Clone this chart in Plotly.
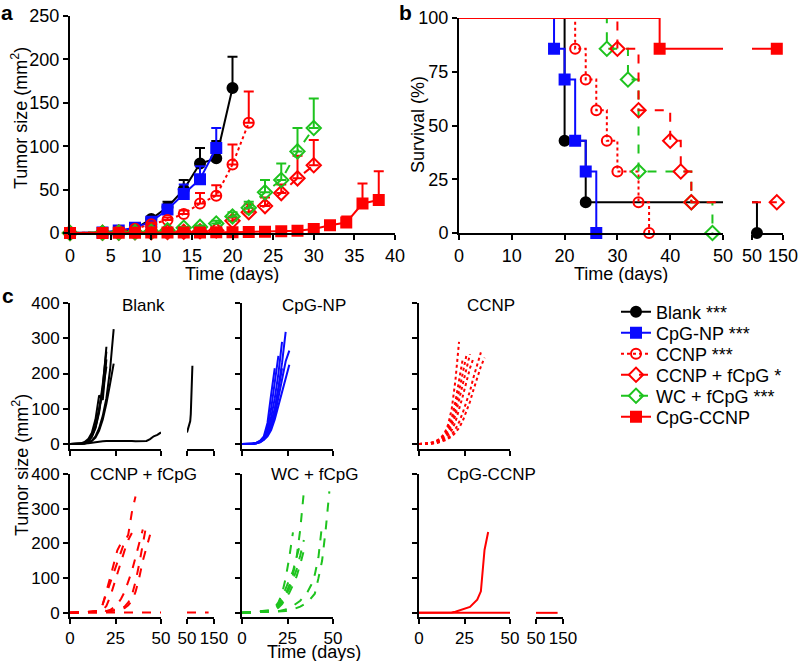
import plotly.graph_objects as go

W, H = 800, 661

# ---------------- Panel a: mean tumour size (mm^2) and upper error ----------------
a_names = ["Blank ***", "CpG-NP ***", "CCNP ***", "CCNP + fCpG *", "WC + fCpG ***", "CpG-CCNP"]

a_blank_days = [0, 4, 6, 8, 10, 12, 14, 16, 18, 20]
a_blank_mean = [0, 0.5, 2, 5, 16, 30, 50, 80, 86, 167]
a_blank_err = [0, 0.5, 1, 1.5, 3, 6, 11, 18, 20, 36]

a_cpgnp_days = [0, 4, 6, 8, 10, 12, 14, 16, 18]
a_cpgnp_mean = [0, 0.5, 3, 6, 13, 27, 45, 62, 98]
a_cpgnp_err = [0, 0.5, 1, 1.5, 3, 5, 11, 15, 23]

a_ccnp_days = [0, 4, 6, 8, 10, 12, 14, 16, 18, 20, 22]
a_ccnp_mean = [0, 0.5, 2, 5, 10, 15, 22, 34, 43, 79, 127]
a_ccnp_err = [0, 0.5, 1, 1, 2, 3, 4, 12, 12, 23, 36]

a_ccnpf_days = [0, 4, 6, 8, 10, 12, 14, 16, 18, 20, 22, 24, 26, 28, 30]
a_ccnpf_mean = [0, 0.3, 0.5, 0.8, 1, 1.2, 1.5, 2, 3, 14, 24, 31, 46, 63, 78]
a_ccnpf_err = [0, 0, 0, 0, 0, 0, 0, 0.5, 1, 4, 9, 10, 10, 26, 29]

a_wcf_days = [0, 4, 6, 8, 10, 12, 14, 16, 18, 20, 22, 24, 26, 28, 30]
a_wcf_mean = [0, 0.3, 0.5, 1, 1.5, 3, 6, 7, 11, 19, 29, 47, 61, 94, 121]
a_wcf_err = [0, 0, 0, 0, 0.5, 1, 1, 1.5, 3, 5, 7, 14, 19, 27, 34]

a_cpgccnp_days = [0, 4, 6, 8, 10, 12, 14, 16, 18, 20, 22, 24, 26, 28, 30, 32, 34, 36, 38]
a_cpgccnp_mean = [0, 0, 0.2, 0.3, 0.5, 0.5, 0.6, 0.7, 0.8, 1, 1.2, 1.5, 2, 2.5, 4.5, 9, 12, 34, 38]
a_cpgccnp_err = [0, 0, 0, 0, 0, 0, 0, 0, 0, 0, 0, 0.5, 0.5, 1, 1.5, 2, 7, 23, 33]

a_x_ticks = [0, 5, 10, 15, 20, 25, 30, 35, 40]
a_y_ticks = [0, 50, 100, 150, 200, 250]

# ---------------- Panel b: survival (%) ----------------
b_blank_t = [0, 20, 24, 66]
b_blank_s = [100, 42.9, 14.3, 0]
b_cpgnp_t = [0, 18, 20, 22, 24, 26]
b_cpgnp_s = [100, 85.7, 71.4, 42.9, 28.6, 0]
b_ccnp_t = [0, 22, 24, 26, 28, 30, 34, 36]
b_ccnp_s = [100, 85.7, 71.4, 57.1, 42.9, 28.6, 14.3, 0]
b_wcf_t = [0, 28, 32, 34, 44, 48]
b_wcf_s = [100, 85.7, 71.4, 28.6, 14.3, 0]
b_ccnpf_t = [0, 30, 34, 40, 42, 44, 130]
b_ccnpf_s = [100, 85.7, 57.1, 42.9, 28.6, 14.3, 14.3]
b_cpgccnp_t = [0, 38, 130]
b_cpgccnp_s = [100, 85.7, 85.7]

b_x_ticks = [0, 10, 20, 30, 40, 50]
b_x2_ticks = [50, 150]
b_y_ticks = [0, 25, 50, 75, 100]

# ---------------- Panel c: individual tumour growth (mm^2) ----------------
c_titles = ["Blank", "CpG-NP", "CCNP", "CCNP + fCpG", "WC + fCpG", "CpG-CCNP"]

c_blank_days = [
    [0, 4, 6, 8, 10, 12, 14, 16, 18, 20],
    [0, 4, 6, 8, 10, 12, 14, 16, 18, 20],
    [0, 4, 6, 8, 10, 12, 14, 16, 18, 20],
    [0, 4, 6, 8, 10, 12, 14, 16, 18, 20, 22, 24],
    [0, 4, 6, 8, 10, 12, 14, 16, 18, 20, 22, 24],
    [0, 4, 6, 8, 10, 12, 14, 16, 18, 20],
    [0, 4, 6, 8, 10, 12, 14, 16, 18, 20, 22, 24, 26, 28, 30, 32, 34, 36, 38, 40, 42, 44, 46, 48, 50,
     54, 58, 62, 64, 66, 68, 70],
]
c_blank_vals = [
    [0, 0, 1, 3, 8, 20, 45, 90, 160, 276],
    [0, 0, 2, 6, 14, 32, 70, 138, 125, 240],
    [0, 0, 1, 4, 10, 24, 52, 100, 150, 220],
    [0, 0, 0, 2, 5, 10, 22, 45, 80, 130, 210, 326],
    [0, 0, 0, 1, 4, 9, 18, 38, 70, 115, 170, 228],
    [0, 0, 1, 3, 9, 22, 48, 95, 170, 262],
    [0, 0, 0, 1, 2, 4, 6, 7, 8, 9, 9, 10, 10, 11, 10, 10, 9, 8, 8, 7, 9, 14, 22, 26, 33,
     42, 50, 65, 85, 120, 165, 222],
]

c_cpgnp_days = [
    [0, 3, 6, 8, 10, 12, 14, 16, 18],
    [0, 3, 6, 8, 10, 12, 14, 16, 18, 20],
    [0, 3, 6, 8, 10, 12, 14, 16, 18, 20, 22],
    [0, 3, 6, 8, 10, 12, 14, 16, 18, 20, 22, 24],
    [0, 3, 6, 8, 10, 12, 14, 16, 18, 20, 22, 24, 26],
    [0, 3, 6, 8, 10, 12, 14, 16, 18, 20, 22, 24, 26],
    [0, 3, 6, 8, 10, 12, 14, 16, 18, 20, 22],
]
c_cpgnp_vals = [
    [0, 0, 1, 4, 10, 22, 60, 140, 215],
    [0, 0, 1, 3, 8, 18, 45, 100, 170, 250],
    [0, 0, 1, 3, 8, 16, 35, 75, 130, 200, 290],
    [0, 0, 1, 3, 7, 15, 30, 60, 100, 160, 230, 318],
    [0, 0, 1, 2, 6, 12, 25, 45, 80, 130, 180, 235, 265],
    [0, 0, 0, 2, 5, 12, 22, 40, 70, 110, 150, 190, 225],
    [0, 0, 1, 2, 6, 14, 28, 55, 95, 150, 215],
]

c_ccnp_days = [
    [0, 4, 6, 8, 10, 12, 14, 16, 18, 20, 22],
    [0, 4, 6, 8, 10, 12, 14, 16, 18, 20, 22, 24],
    [0, 4, 6, 8, 10, 12, 14, 16, 18, 20, 22, 24, 26],
    [0, 4, 6, 8, 10, 12, 14, 16, 18, 20, 22, 24, 26, 28],
    [0, 4, 6, 8, 10, 12, 14, 16, 18, 20, 22, 24, 26, 28, 30],
    [0, 4, 6, 8, 10, 12, 14, 16, 18, 20, 22, 24, 26, 28, 30, 32, 34],
    [0, 4, 6, 8, 10, 12, 14, 16, 18, 20, 22, 24, 26, 28, 30, 32, 34, 36],
]
c_ccnp_vals = [
    [0, 1, 3, 6, 10, 18, 30, 55, 100, 180, 290],
    [0, 1, 2, 5, 9, 15, 25, 45, 75, 120, 180, 240],
    [0, 0, 2, 4, 8, 14, 22, 38, 62, 100, 150, 200, 250],
    [0, 0, 1, 3, 6, 12, 20, 32, 52, 82, 125, 170, 215, 255],
    [0, 0, 1, 3, 5, 10, 16, 26, 40, 62, 95, 135, 175, 215, 245],
    [0, 0, 1, 2, 4, 7, 12, 18, 28, 42, 62, 88, 118, 150, 190, 225, 260],
    [0, 0, 1, 2, 3, 6, 10, 15, 22, 32, 46, 65, 90, 120, 155, 190, 220, 245],
]

c_ccnpf_days = [
    [0, 4, 8, 12, 16, 18, 20, 22, 24, 26, 28, 30],
    [0, 4, 8, 12, 16, 18, 20, 22, 24, 26, 28, 30, 32, 34, 36],
    [0, 4, 8, 12, 16, 18, 20, 22, 24, 26, 28, 30, 32, 34],
    [0, 4, 8, 12, 16, 20, 24, 28, 30, 32, 34, 36, 38, 40, 42],
    [0, 4, 8, 12, 16, 20, 24, 28, 30, 32, 34, 36, 38, 40, 42, 44],
    [0, 4, 8, 12, 16, 18, 20, 22, 24, 26, 28, 30, 32, 34, 36, 38, 40],
    [0, 10, 20, 30, 40, 50, 70, 90, 110, 130],
]
c_ccnpf_vals = [
    [0, 2, 2, 3, 5, 25, 60, 100, 140, 180, 200, 200],
    [0, 2, 3, 3, 5, 25, 55, 90, 120, 150, 175, 205, 225, 290, 335],
    [0, 2, 2, 3, 4, 8, 20, 45, 80, 115, 150, 180, 210, 230],
    [0, 2, 2, 3, 3, 5, 8, 12, 18, 30, 50, 90, 140, 200, 255],
    [0, 2, 2, 3, 3, 4, 6, 10, 14, 22, 35, 60, 100, 150, 190, 225],
    [0, 2, 2, 3, 4, 10, 5, 8, 15, 25, 40, 60, 90, 120, 160, 200, 240],
    [0, 1, 1, 1, 1, 1, 1, 1, 1, 1],
]

c_wcf_days = [
    [0, 4, 8, 12, 16, 18, 20, 22, 24, 26, 28],
    [0, 4, 8, 12, 16, 18, 20, 22, 24, 26, 28, 30, 32],
    [0, 4, 8, 12, 16, 18, 20, 22, 24, 26, 28, 30, 32, 34],
    [0, 4, 8, 12, 16, 18, 20, 22, 24, 26, 28, 30, 32, 34],
    [0, 4, 8, 12, 16, 18, 20, 22, 24, 26, 28, 30, 32, 34],
    [0, 4, 8, 12, 16, 20, 24, 28, 32, 36, 38, 40, 42, 44],
    [0, 4, 8, 12, 16, 20, 24, 28, 32, 36, 40, 42, 44, 46, 48],
]
c_wcf_vals = [
    [0, 2, 3, 4, 8, 15, 30, 55, 100, 160, 232],
    [0, 1, 2, 3, 6, 12, 25, 45, 70, 95, 120, 160, 200],
    [0, 1, 2, 3, 5, 10, 20, 35, 55, 80, 110, 160, 240, 350],
    [0, 1, 2, 3, 5, 9, 18, 30, 48, 70, 95, 125, 165, 210],
    [0, 1, 2, 3, 4, 8, 15, 25, 40, 58, 80, 105, 140, 180],
    [0, 1, 2, 2, 3, 5, 10, 20, 35, 60, 80, 110, 160, 255],
    [0, 1, 1, 2, 2, 3, 5, 10, 18, 30, 55, 100, 150, 240, 350],
]

c_cpgccnp_days = [
    [0, 10, 18, 20, 24, 28, 32, 34, 36, 38],
    [0, 10, 20, 30, 40, 50, 70, 90, 110, 130],
]
c_cpgccnp_vals = [
    [0, 0, 1, 3, 11, 17, 38, 62, 181, 233],
    [0, 0, 0, 0, 0, 0, 0, 0, 0, 0],
]

c_y_ticks = [0, 100, 200, 300, 400]
c_x_ticks = [0, 25, 50]
c_x2_ticks = [50, 150]

# ---------------- styles ----------------
FONT = "Arial, Liberation Sans, Helvetica, sans-serif"
BLACK, BLUE, RED, GREEN = "#000000", "#0a0aff", "#ff0000", "#1ec31e"
styles = [
    dict(color=BLACK, dash="solid", symbol="circle", size=10),
    dict(color=BLUE, dash="solid", symbol="square", size=10),
    dict(color=RED, dash="dot", symbol="circle-open", size=10),
    dict(color=RED, dash="dash", symbol="diamond-open", size=11),
    dict(color=GREEN, dash="dash", symbol="diamond-open", size=11),
    dict(color=RED, dash="solid", symbol="square", size=10),
]
legend_rows = [312, 333, 354, 375, 396, 417]
BREAK = 50


def fx(p):
    return p / W


def fy(p):
    return 1 - p / H


fig = go.Figure()

# ---- panel a traces (each also carries its own legend entry) ----
a_data = [
    (a_blank_days, a_blank_mean, a_blank_err),
    (a_cpgnp_days, a_cpgnp_mean, a_cpgnp_err),
    (a_ccnp_days, a_ccnp_mean, a_ccnp_err),
    (a_ccnpf_days, a_ccnpf_mean, a_ccnpf_err),
    (a_wcf_days, a_wcf_mean, a_wcf_err),
    (a_cpgccnp_days, a_cpgccnp_mean, a_cpgccnp_err),
]
for k, (name, (d, m, e), st) in enumerate(zip(a_names, a_data, styles)):
    fig.add_trace(go.Scatter(
        x=d, y=m, mode="lines+markers", name=name, xaxis="x", yaxis="y",
        legend="legend" if k == 0 else "legend%d" % (k + 1),
        line=dict(color=st["color"], width=2, dash=st["dash"]),
        marker=dict(symbol=st["symbol"], size=st["size"], color=st["color"],
                    line=dict(width=2, color=st["color"])),
        error_y=dict(type="data", array=e, arrayminus=[0] * len(e), symmetric=False,
                     color=st["color"], thickness=2, width=5),
        cliponaxis=False, showlegend=True,
    ))

# ---- panel b traces (step curves split at the axis break) ----
b_data = [
    (b_blank_t, b_blank_s, 0),
    (b_cpgnp_t, b_cpgnp_s, 1),
    (b_ccnp_t, b_ccnp_s, 2),
    (b_wcf_t, b_wcf_s, 4),
    (b_ccnpf_t, b_ccnpf_s, 3),
    (b_cpgccnp_t, b_cpgccnp_s, 5),
]
for seg in (0, 1):
    xa = "x2" if seg == 0 else "x3"
    for t, s, k in b_data:
        st = styles[k]
        s_at_break = [si for ti, si in zip(t, s) if ti <= BREAK][-1]
        later = [(ti, si) for ti, si in zip(t, s) if ti > BREAK]
        if seg == 0:
            lx = [ti for ti in t if ti <= BREAK]
            ly = [si for ti, si in zip(t, s) if ti <= BREAK]
            if later:
                lx.append(BREAK)
                ly.append(s_at_break)
            mk = [(ti, si) for ti, si in zip(t[1:], s[1:]) if ti <= BREAK]
        else:
            if not later:
                continue
            lx = [BREAK] + [p[0] for p in later]
            ly = [s_at_break] + [p[1] for p in later]
            mk = later
        fig.add_trace(go.Scatter(
            x=lx, y=ly, mode="lines", line_shape="hv", xaxis=xa, yaxis="y2",
            line=dict(color=st["color"], width=2, dash=st["dash"]), showlegend=False,
        ))
        fig.add_trace(go.Scatter(
            x=[p[0] for p in mk], y=[p[1] for p in mk], mode="markers", xaxis=xa, yaxis="y2",
            marker=dict(symbol=st["symbol"], size=st["size"], color=st["color"],
                        line=dict(width=2, color=st["color"])),
            cliponaxis=False, showlegend=False,
        ))

# ---- panel c traces (days <= 50 on the main axis, >= 50 on the broken axis) ----
c_data = [
    (c_blank_days, c_blank_vals, 0),
    (c_cpgnp_days, c_cpgnp_vals, 1),
    (c_ccnp_days, c_ccnp_vals, 2),
    (c_ccnpf_days, c_ccnpf_vals, 3),
    (c_wcf_days, c_wcf_vals, 4),
    (c_cpgccnp_days, c_cpgccnp_vals, 5),
]
for i, (dd, vv, k) in enumerate(c_data):
    st = styles[k]
    xm, xb, ya = "x%d" % (4 + 2 * i), "x%d" % (5 + 2 * i), "y%d" % (3 + i)
    for d, v in zip(dd, vv):
        for xa, keep in ((xm, lambda q: q <= BREAK), (xb, lambda q: q >= BREAK)):
            px_ = [q for q in d if keep(q)]
            py_ = [w for q, w in zip(d, v) if keep(q)]
            if len(px_) < 2:
                continue
            fig.add_trace(go.Scatter(
                x=px_, y=py_, mode="lines", xaxis=xa, yaxis=ya,
                line=dict(color=st["color"], width=2, dash=st["dash"]), showlegend=False,
            ))

# ---------------- axes ----------------
base = dict(showline=True, linecolor="black", linewidth=2, ticks="outside", ticklen=5,
            tickwidth=2, tickcolor="black", showgrid=False, zeroline=False, automargin=False,
            tickfont=dict(size=18, color="black", family=FONT), fixedrange=True)
lay = {}
lay["xaxis"] = dict(base, domain=[fx(70), fx(395)], range=[0, 40], tickvals=a_x_ticks, anchor="y")
lay["yaxis"] = dict(base, domain=[fy(233), fy(16)], range=[0, 250], tickvals=a_y_ticks, anchor="x")

lay["xaxis2"] = dict(base, domain=[fx(459), fx(723)], range=[0, 50], tickvals=b_x_ticks, anchor="y2")
lay["xaxis3"] = dict(base, domain=[fx(752), fx(783)], range=[50, 150], tickvals=b_x2_ticks, anchor="y2")
lay["yaxis2"] = dict(base, domain=[fy(233), fy(18)], range=[0, 100], tickvals=b_y_ticks, anchor="x2")

c_main = [(70, 161), (242, 333), (419, 510)]
c_brk = [(187, 214), (360, 387), (536, 563)]
c_rows = [((449, 303), [-14, 400]), ((617, 474), [-12, 400])]
cbase = dict(base, tickfont=dict(size=17, color="black", family=FONT))
for i in range(6):
    r, c = divmod(i, 3)
    (yb, yt), yr = c_rows[r]
    xm, xb, ya = 4 + 2 * i, 5 + 2 * i, 3 + i
    lay["xaxis%d" % xm] = dict(cbase, domain=[fx(c_main[c][0]), fx(c_main[c][1])], range=[0, 50],
                               tickvals=c_x_ticks, showticklabels=(r == 1), anchor="y%d" % ya)
    lay["xaxis%d" % xb] = dict(cbase, domain=[fx(c_brk[c][0]), fx(c_brk[c][1])], range=[50, 150],
                               tickvals=c_x2_ticks, showticklabels=(r == 1), anchor="y%d" % ya)
    lay["yaxis%d" % ya] = dict(cbase, domain=[fy(yb), fy(yt)], range=yr, tickvals=c_y_ticks,
                               showticklabels=(c == 0), anchor="x%d" % xm)

# ---------------- legends (one per entry so the row spacing matches) ----------------
for k, yrow in enumerate(legend_rows):
    key = "legend" if k == 0 else "legend%d" % (k + 1)
    lay[key] = dict(x=fx(616), y=fy(yrow), xanchor="left", yanchor="middle",
                    font=dict(size=18, color="black", family=FONT), bgcolor="rgba(0,0,0,0)",
                    borderwidth=0, itemwidth=30)


# ---------------- annotations ----------------
def ann(text, x, y, size=18, angle=0, bold=False, h=None):
    d = dict(text=("<b>%s</b>" % text) if bold else text, x=fx(x), y=fy(y), xref="paper", yref="paper",
             showarrow=False, textangle=angle, xanchor="center", yanchor="middle",
             font=dict(size=size, color="black", family=FONT))
    if h:
        d["height"] = h
    return d


anns = [
    ann("a", 7, 13, 21, bold=True),
    ann("b", 405, 13, 21, bold=True),
    ann("c", 8, 296, 21, bold=True),
    ann("Tumor size (mm<sup>2</sup>)", 20, 118, angle=-90),
    ann("Time (days)", 232, 273, h=19),
    ann("Survival (%)", 418, 125, angle=-90),
    ann("Time (days)", 621, 273, h=19),
    ann("Tumor size (mm<sup>2</sup>)", 20, 465, angle=-90),
    ann("Time (days)", 314, 651, h=19),
]
title_pos = [(143, 305), (314, 305), (491, 305), (143, 474), (314, 474), (491, 474)]
for t, (x, y) in zip(c_titles, title_pos):
    anns.append(ann(t, x, y, 17))

fig.update_layout(
    width=W, height=H, margin=dict(l=0, r=0, t=0, b=0, pad=0, autoexpand=False),
    paper_bgcolor="white", plot_bgcolor="white",
    font=dict(family=FONT, color="black", size=18),
    annotations=anns,
    **lay,
)

fig.write_html("out.html", config={"displayModeBar": False, "staticPlot": True},
               post_script="document.body.style.margin='0px';document.body.style.overflow='hidden';")
